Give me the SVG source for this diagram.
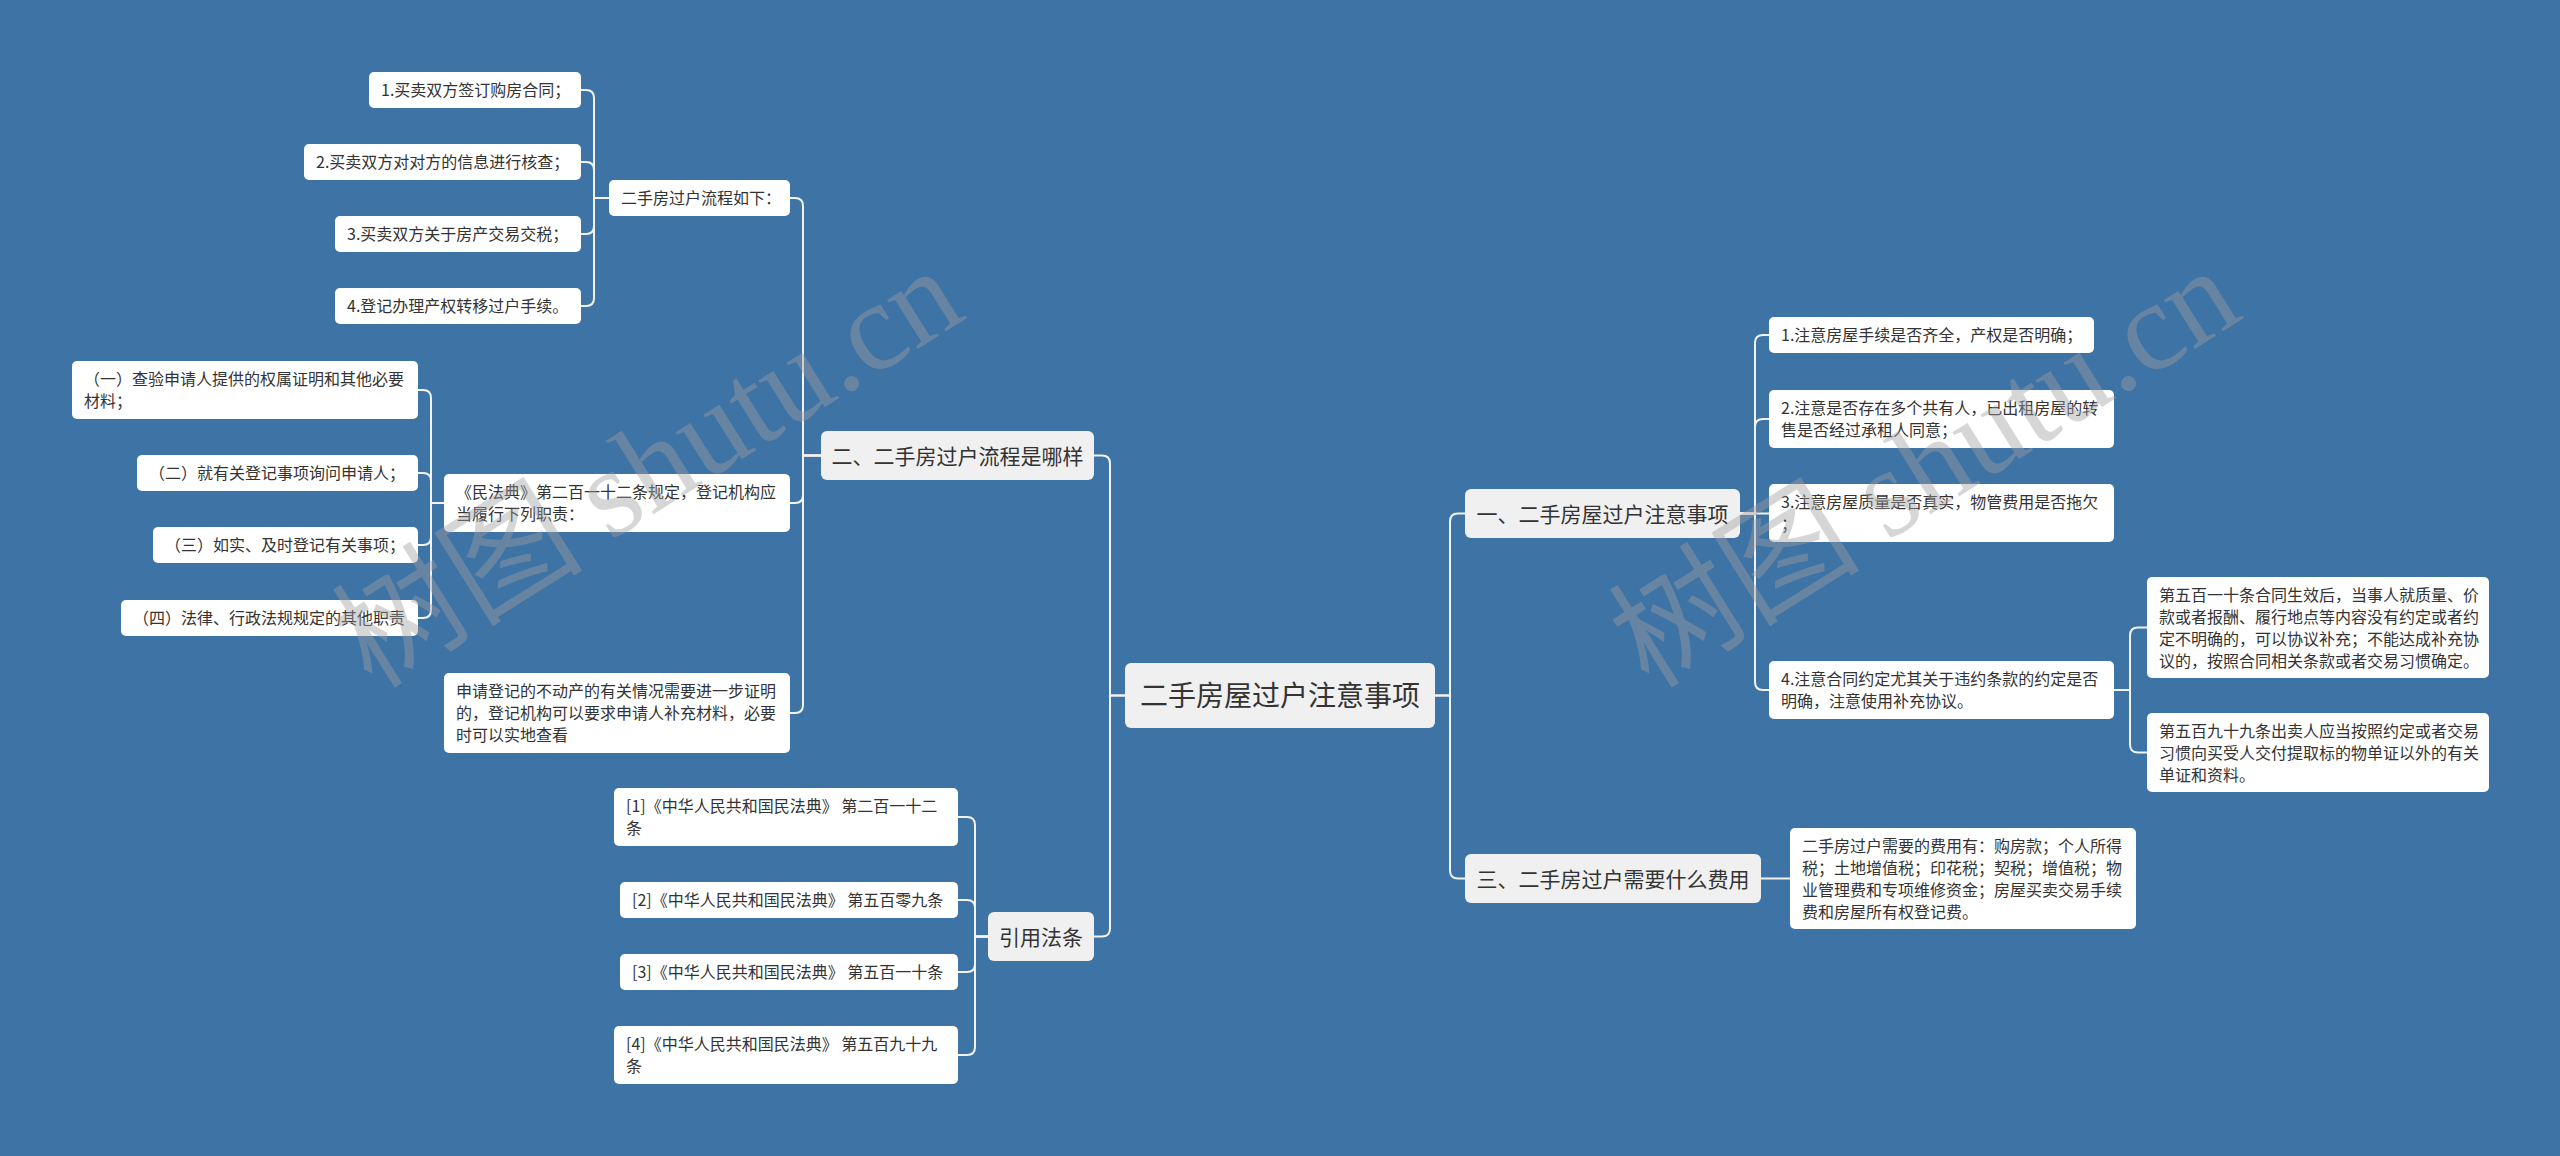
<svg xmlns="http://www.w3.org/2000/svg" width="2560" height="1156" viewBox="0 0 2560 1156">
<style>
.bg{fill:#3e73a5}
.leaf{fill:#ffffff}
.mid{fill:#f0f0f0}
text{font-family:"Noto Sans CJK SC","Microsoft YaHei",sans-serif;fill:#333333}
.s{font-size:16px}
.m{font-size:21px;text-anchor:middle}
.c{font-size:28px;text-anchor:middle}
.conn path{fill:none;stroke:#f2f2f2;stroke-width:2}
.wm{font-size:126px;fill:#a0a0a0;opacity:0.42}
</style>
<rect class="bg" x="0" y="0" width="2560" height="1156"/>

<g class="conn" id="connectors">
<path d="M1435 695.5 H1450 V521.5 Q1450 513.5 1458 513.5 H1465"/>
<path d="M1435 695.5 H1450 V870.5 Q1450 878.5 1458 878.5 H1465"/>
<path d="M1740 513.5 H1755 V343 Q1755 335 1763 335 H1769"/>
<path d="M1740 513.5 H1755 V427 Q1755 419 1763 419 H1769"/>
<path d="M1740 513.5 H1769"/>
<path d="M1740 513.5 H1755 V682 Q1755 690 1763 690 H1769"/>
<path d="M2114 690 H2130 V635.5 Q2130 627.5 2138 627.5 H2147"/>
<path d="M2114 690 H2130 V744.5 Q2130 752.5 2138 752.5 H2147"/>
<path d="M1761 878.5 H1790"/>
<path d="M1125 695.5 H1110 V463.5 Q1110 455.5 1102 455.5 H1094"/>
<path d="M1125 695.5 H1110 V928.5 Q1110 936.5 1102 936.5 H1094"/>
<path d="M821 455.5 H803 V206 Q803 198 795 198 H790"/>
<path d="M821 455.5 H803 V495 Q803 503 795 503 H790"/>
<path d="M821 455.5 H803 V705 Q803 713 795 713 H790"/>
<path d="M609 198 H594 V98 Q594 90 586 90 H581"/>
<path d="M609 198 H594 V170 Q594 162 586 162 H581"/>
<path d="M609 198 H594 V226 Q594 234 586 234 H581"/>
<path d="M609 198 H594 V298 Q594 306 586 306 H581"/>
<path d="M444 503 H431 V398 Q431 390 423 390 H418"/>
<path d="M444 503 H431 V481 Q431 473 423 473 H418"/>
<path d="M444 503 H431 V537 Q431 545 423 545 H418"/>
<path d="M444 503 H431 V610 Q431 618 423 618 H418"/>
<path d="M988 936.5 H975 V825 Q975 817 967 817 H958"/>
<path d="M988 936.5 H975 V908 Q975 900 967 900 H958"/>
<path d="M988 936.5 H975 V964 Q975 972 967 972 H958"/>
<path d="M988 936.5 H975 V1047 Q975 1055 967 1055 H958"/>
</g>

<g id="root"><rect class="mid" x="1125" y="663" width="310" height="65" rx="6"/><text class="c" x="1280" y="706">二手房屋过户注意事项</text></g>

<g id="n-yi"><rect class="mid" x="1465" y="489" width="275" height="49" rx="6"/><text class="m" x="1602.5" y="521.5">一、二手房屋过户注意事项</text></g>
<g id="n-yi-1"><rect class="leaf" x="1769" y="317" width="325" height="36" rx="5"/><text class="s" x="1781" y="341">1.注意房屋手续是否齐全，产权是否明确；</text></g>
<g id="n-yi-2"><rect class="leaf" x="1769" y="390" width="345" height="58" rx="5"/><text class="s" x="1781" y="414">2.注意是否存在多个共有人，已出租房屋的转</text><text class="s" x="1781" y="436">售是否经过承租人同意；</text></g>
<g id="n-yi-3"><rect class="leaf" x="1769" y="484" width="345" height="58" rx="5"/><text class="s" x="1781" y="508">3.注意房屋质量是否真实，物管费用是否拖欠</text><text class="s" x="1781" y="530">；</text></g>
<g id="n-yi-4"><rect class="leaf" x="1769" y="661" width="345" height="58" rx="5"/><text class="s" x="1781" y="685">4.注意合同约定尤其关于违约条款的约定是否</text><text class="s" x="1781" y="707">明确，注意使用补充协议。</text></g>
<g id="n-yi-4-a"><rect class="leaf" x="2147" y="577" width="342" height="101" rx="5"/><text class="s" x="2159" y="601">第五百一十条合同生效后，当事人就质量、价</text><text class="s" x="2159" y="623">款或者报酬、履行地点等内容没有约定或者约</text><text class="s" x="2159" y="645">定不明确的，可以协议补充；不能达成补充协</text><text class="s" x="2159" y="667">议的，按照合同相关条款或者交易习惯确定。</text></g>
<g id="n-yi-4-b"><rect class="leaf" x="2147" y="713" width="342" height="79" rx="5"/><text class="s" x="2159" y="737">第五百九十九条出卖人应当按照约定或者交易</text><text class="s" x="2159" y="759">习惯向买受人交付提取标的物单证以外的有关</text><text class="s" x="2159" y="781">单证和资料。</text></g>

<g id="n-san"><rect class="mid" x="1465" y="854" width="296" height="49" rx="6"/><text class="m" x="1613" y="886.5">三、二手房过户需要什么费用</text></g>
<g id="n-san-1"><rect class="leaf" x="1790" y="828" width="346" height="101" rx="5"/><text class="s" x="1802" y="852">二手房过户需要的费用有：购房款；个人所得</text><text class="s" x="1802" y="874">税；土地增值税；印花税；契税；增值税；物</text><text class="s" x="1802" y="896">业管理费和专项维修资金；房屋买卖交易手续</text><text class="s" x="1802" y="918">费和房屋所有权登记费。</text></g>

<g id="n-er"><rect class="mid" x="821" y="431" width="273" height="49" rx="6"/><text class="m" x="957.5" y="463.5">二、二手房过户流程是哪样</text></g>
<g id="n-er-1"><rect class="leaf" x="609" y="180" width="181" height="36" rx="5"/><text class="s" x="621" y="204">二手房过户流程如下：</text></g>
<g id="n-er-1-1"><rect class="leaf" x="369" y="72" width="212" height="36" rx="5"/><text class="s" x="381" y="96">1.买卖双方签订购房合同；</text></g>
<g id="n-er-1-2"><rect class="leaf" x="304" y="144" width="277" height="36" rx="5"/><text class="s" x="316" y="168">2.买卖双方对对方的信息进行核查；</text></g>
<g id="n-er-1-3"><rect class="leaf" x="335" y="216" width="246" height="36" rx="5"/><text class="s" x="347" y="240">3.买卖双方关于房产交易交税；</text></g>
<g id="n-er-1-4"><rect class="leaf" x="335" y="288" width="246" height="36" rx="5"/><text class="s" x="347" y="312">4.登记办理产权转移过户手续。</text></g>
<g id="n-er-2"><rect class="leaf" x="444" y="474" width="346" height="58" rx="5"/><text class="s" x="456" y="498">《民法典》第二百一十二条规定，登记机构应</text><text class="s" x="456" y="520">当履行下列职责：</text></g>
<g id="n-er-2-1"><rect class="leaf" x="72" y="361" width="346" height="58" rx="5"/><text class="s" x="84" y="385">（一）查验申请人提供的权属证明和其他必要</text><text class="s" x="84" y="407">材料；</text></g>
<g id="n-er-2-2"><rect class="leaf" x="137" y="455" width="281" height="36" rx="5"/><text class="s" x="149" y="479">（二）就有关登记事项询问申请人；</text></g>
<g id="n-er-2-3"><rect class="leaf" x="153" y="527" width="265" height="36" rx="5"/><text class="s" x="165" y="551">（三）如实、及时登记有关事项；</text></g>
<g id="n-er-2-4"><rect class="leaf" x="121" y="600" width="297" height="36" rx="5"/><text class="s" x="133" y="624">（四）法律、行政法规规定的其他职责</text></g>
<g id="n-er-3"><rect class="leaf" x="444" y="673" width="346" height="80" rx="5"/><text class="s" x="456" y="697">申请登记的不动产的有关情况需要进一步证明</text><text class="s" x="456" y="719">的，登记机构可以要求申请人补充材料，必要</text><text class="s" x="456" y="741">时可以实地查看</text></g>

<g id="n-law"><rect class="mid" x="988" y="912" width="106" height="49" rx="6"/><text class="m" x="1041" y="944.5">引用法条</text></g>
<g id="n-law-1"><rect class="leaf" x="614" y="788" width="344" height="58" rx="5"/><text class="s" x="626" y="812">[1]《中华人民共和国民法典》 第二百一十二</text><text class="s" x="626" y="834">条</text></g>
<g id="n-law-2"><rect class="leaf" x="620" y="882" width="338" height="36" rx="5"/><text class="s" x="632" y="906">[2]《中华人民共和国民法典》 第五百零九条</text></g>
<g id="n-law-3"><rect class="leaf" x="620" y="954" width="338" height="36" rx="5"/><text class="s" x="632" y="978">[3]《中华人民共和国民法典》 第五百一十条</text></g>
<g id="n-law-4"><rect class="leaf" x="614" y="1026" width="344" height="58" rx="5"/><text class="s" x="626" y="1050">[4]《中华人民共和国民法典》 第五百九十九</text><text class="s" x="626" y="1072">条</text></g>

<g id="watermarks">
<text class="wm" x="372" y="690" transform="rotate(-32 372 690)">树图 <tspan font-family="Liberation Serif, serif">shutu.cn</tspan></text>
<text class="wm" x="1649" y="690" transform="rotate(-32 1649 690)">树图 <tspan font-family="Liberation Serif, serif">shutu.cn</tspan></text>
</g>
</svg>
